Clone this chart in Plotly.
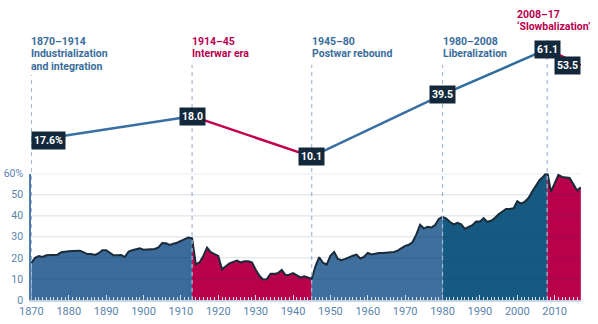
import plotly.graph_objects as go

# ---------------- data ----------------
years = list(range(1870, 2018))
openness = [
    17.6, 20.0, 20.9, 20.4, 21.2, 21.4, 21.5, 21.5, 22.7, 23.0,   # 1870-1879
    23.1, 23.2, 23.4, 23.4, 22.6, 21.8, 21.8, 21.4, 22.2, 23.6,   # 1880-1889
    23.6, 22.5, 21.2, 21.2, 21.4, 20.4, 23.0, 23.6, 23.9, 24.5,   # 1890-1899
    23.9, 23.9, 24.0, 24.2, 25.0, 27.0, 26.9, 26.1, 26.7, 27.2,   # 1900-1909
    28.1, 29.0, 29.6, 29.3, 17.0, 17.8, 20.9, 24.9, 22.7, 21.8,   # 1910-1919
    20.9, 14.6, 15.9, 17.4, 18.1, 18.7, 17.8, 18.4, 18.4, 17.9,   # 1920-1929
    14.5, 11.5, 9.7, 9.9, 12.5, 12.4, 12.8, 14.3, 11.8, 12.0,     # 1930-1939
    12.8, 11.8, 10.7, 11.2, 10.7, 10.1, 16.0, 20.3, 17.7, 16.8,   # 1940-1949
    21.0, 22.8, 19.5, 18.9, 19.5, 20.3, 21.0, 21.5, 19.7, 20.5,   # 1950-1959
    22.3, 21.6, 22.0, 22.3, 22.3, 22.4, 22.6, 22.8, 23.4, 24.6,   # 1960-1969
    25.7, 26.2, 27.5, 31.1, 35.7, 33.9, 34.8, 34.4, 35.5, 38.5,   # 1970-1979
    39.5, 38.6, 37.0, 35.9, 36.6, 35.9, 33.8, 34.7, 35.5, 37.3,   # 1980-1989
    37.2, 38.9, 37.1, 37.6, 38.9, 40.7, 42.0, 43.2, 43.2, 43.5,   # 1990-1999
    46.9, 45.8, 46.6, 48.4, 51.5, 54.3, 57.0, 58.6, 61.1, 51.3,   # 2000-2009
    55.0, 59.4, 58.4, 58.2, 57.9, 55.0, 52.0, 53.5,               # 2010-2017
]

era_bounds = [1870, 1913, 1945, 1980, 2008, 2017]
era_titles = ["1870–1914", "1914–45", "1945–80", "1980–2008", "2008–17"]
era_names = [["Industrialization", "and integration"], ["Interwar era"],
             ["Postwar rebound"], ["Liberalization"], ["‘Slowbalization’"]]
point_labels = ["17.6%", "18.0", "10.1", "39.5", "61.1", "53.5"]

y_ticks = [0, 10, 20, 30, 40, 50, 60]
y_ticktext = ["0", "10", "20", "30", "40", "50", "60%"]
x_ticks = list(range(1870, 2011, 10))

# ---------------- styles ----------------
BLUE = "#3b6b9a"
BLUE3 = "#3e6f9d"
NAVY = "#165a81"
RED = "#b9004b"
OUT = "#1b2b3a"
TXT_BLUE = "#3a6d9c"
TXT_RED = "#b8004e"
AXIS_TXT = "#5a84ad"
era_fill = [BLUE, RED, BLUE3, NAVY, RED]
seg_color = ["#3a6fa3", "#c2004f", "#3a6fa3", "#2e6c9b", "#c2004f"]
title_color = [TXT_BLUE, TXT_RED, TXT_BLUE, TXT_BLUE, TXT_RED]
FONT = "Roboto"

fig = go.Figure()

val = dict(zip(years, openness))

# era area fills
for i in range(5):
    a, b = era_bounds[i], era_bounds[i + 1]
    xs = [y for y in years if a <= y <= b]
    ys = [val[y] for y in xs]
    fig.add_trace(go.Scatter(x=xs, y=ys, fill="tozeroy", mode="lines",
                             line=dict(width=0, color=era_fill[i]),
                             fillcolor=era_fill[i], hoverinfo="skip",
                             showlegend=False, xaxis="x", yaxis="y"))

# outline
fig.add_trace(go.Scatter(x=years, y=openness, mode="lines",
                         line=dict(color=OUT, width=2), showlegend=False,
                         hoverinfo="skip", xaxis="x", yaxis="y"))

# top summary line (values at era boundaries)
top_vals = [val[y] for y in era_bounds]
for i in range(5):
    fig.add_trace(go.Scatter(x=era_bounds[i:i + 2], y=top_vals[i:i + 2],
                             mode="lines", line=dict(color=seg_color[i], width=2.5),
                             showlegend=False, hoverinfo="skip",
                             xaxis="x", yaxis="y2"))

annotations = []
# value boxes
for i, (yr, v, lab) in enumerate(zip(era_bounds, top_vals, point_labels)):
    xanchor = "left" if i == 0 else ("right" if i == len(era_bounds) - 1 else "center")
    annotations.append(dict(x=yr, y=v, xref="x", yref="y2", text=f"<b>{lab}</b>",
                            showarrow=False, xanchor=xanchor, yanchor="middle",
                            bgcolor="#13283b", borderpad=2,
                            font=dict(family=FONT, size=10.5, color="white")))

# era titles (base size sets line spacing; spans carry the real size)
title_top = [0.907, 0.907, 0.907, 0.907, 1.0]
for i in range(5):
    x0 = era_bounds[i] if i < 4 else 1999.9
    lines = [era_titles[i]] + era_names[i]
    text = "<br>".join(f"<span style='font-size:10.5px'><b>{t}</b></span>" for t in lines)
    annotations.append(dict(x=x0, y=title_top[i], xref="x", yref="paper",
                            text=text, showarrow=False, align="left",
                            xanchor="left", yanchor="top", xshift=-2,
                            font=dict(family=FONT, size=9.6, color=title_color[i])))

shapes = []
# dashed era dividers
dash_top = [0.765, 0.80, 0.80, 0.80, 0.897]
for i in range(5):
    shapes.append(dict(type="line", xref="x", yref="paper", x0=era_bounds[i], x1=era_bounds[i],
                       y0=0, y1=dash_top[i], layer="above",
                       line=dict(color="#a3bad3", width=1.2, dash="4px,4px")))
# gridlines (drawn over area so they tint it)
for g in y_ticks[1:]:
    shapes.append(dict(type="line", xref="paper", yref="y", x0=0, x1=1, y0=g, y1=g,
                       layer="above", line=dict(color="rgba(30,60,100,0.11)", width=1.5)))

fig.update_layout(
    width=598, height=324,
    margin=dict(l=31, r=17, t=0, b=24),
    paper_bgcolor="white", plot_bgcolor="rgba(0,0,0,0)",
    showlegend=False,
    xaxis=dict(range=[1869.9, 2017.05], tickvals=x_ticks, showgrid=False, zeroline=False,
               ticks="inside", ticklen=5, tickwidth=1, tickcolor="#d6e0ea",
               minor=dict(dtick=1, tick0=1870, ticks="inside", ticklen=3, tickcolor="#d6e0ea", showgrid=False),
               showline=True, linecolor="#c8d5e3", linewidth=1.5,
               tickfont=dict(family=FONT, size=11, color=AXIS_TXT), fixedrange=True),
    yaxis=dict(domain=[0, 0.43], range=[0, 60], tickvals=y_ticks, ticktext=y_ticktext,
               showgrid=False, zeroline=False, showline=True, linecolor="#4e7ca8", linewidth=1.5,
               ticks="", tickfont=dict(family=FONT, size=10.5, color=AXIS_TXT),
               ticklabelstandoff=4, fixedrange=True),
    yaxis2=dict(domain=[0, 1], range=[-58.0, 81.6], visible=False, anchor="x", fixedrange=True),
    annotations=annotations,
    shapes=shapes,
)

fig.write_html("out.html")
